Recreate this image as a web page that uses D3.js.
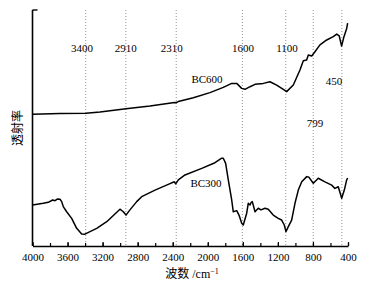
<!DOCTYPE html>
<html>
<head>
<meta charset="utf-8">
<script src="https://cdn.jsdelivr.net/npm/d3@7"></script>
<style>
  body { margin: 0; background: #fff; }
  svg text { font-family: "Liberation Serif", "Noto Sans CJK SC", serif; fill: #000; }
</style>
</head>
<body>
<div id="chart"></div>
<script>
// FTIR spectra, wavenumber (cm-1) vs transmittance (arbitrary units)
const bc600 = [
  [4000, 55.8], [3686, 56.1], [3390, 56.2], [3230, 56.8], [2933, 58.2], [2659, 59.3],
  [2380, 60.8], [2363, 60.7], [2336, 61.2], [2165, 62.8], [1975, 65.0], [1823, 67.2],
  [1727, 68.9], [1670, 68.9], [1613, 66.8], [1575, 66.4], [1518, 67.5], [1461, 68.5],
  [1367, 68.9], [1290, 69.6], [1214, 68.2], [1138, 66.4], [1100, 65.4], [1024, 68.2],
  [948, 74.6], [910, 78.5], [872, 78.8], [853, 80.9], [814, 80.5], [777, 82.3],
  [720, 85.2], [643, 87.3], [568, 88.7], [529, 89.8], [500, 89.0], [473, 84.7],
  [446, 88.7], [415, 92.2], [404, 94.4]
];

const bc300 = [
  [4000, 17.4], [3877, 18.1], [3820, 18.5], [3770, 19.5], [3743, 19.2], [3717, 19.9],
  [3686, 19.8], [3667, 18.8], [3649, 16.7], [3610, 14.5], [3553, 11.7], [3496, 7.5],
  [3439, 5.1], [3401, 5.0], [3344, 6.1], [3267, 7.5], [3153, 10.3], [3002, 15.6],
  [2964, 14.5], [2933, 13.1], [2888, 15.3], [2811, 18.8], [2754, 20.9], [2602, 23.7],
  [2451, 26.1], [2382, 27.2], [2366, 26.3], [2336, 28.0], [2260, 30.1], [2069, 32.9],
  [1918, 35.3], [1841, 37.2], [1823, 37.2], [1796, 35.0], [1766, 28.0], [1727, 19.5],
  [1709, 14.5], [1670, 15.0], [1644, 13.1], [1613, 9.6], [1595, 8.9], [1556, 13.9],
  [1538, 18.1], [1518, 17.4], [1507, 18.3], [1492, 18.8], [1461, 14.5], [1424, 16.0],
  [1393, 15.3], [1347, 16.0], [1310, 15.6], [1253, 13.1], [1196, 11.7], [1157, 11.0],
  [1127, 8.9], [1108, 6.1], [1081, 8.2], [1043, 11.0], [1005, 18.1], [967, 23.7],
  [928, 27.2], [871, 29.4], [845, 29.1], [796, 26.6], [739, 28.7], [663, 27.2],
  [586, 25.8], [549, 24.4], [511, 25.1], [472, 20.2], [442, 23.7], [415, 28.0], [404, 28.8]
];

// dotted peak guides (drawn position in cm-1)
const peakLines = [3393, 2935, 2360, 1605, 1110, 797, 470];

// text annotations: [label, wavenumber, transmittance]
const annotations = [
  ["3400", 3435, 82.2], ["2910", 2937, 82.2], ["2310", 2412, 82.2],
  ["1600", 1598, 82.2], ["1100", 1096, 82.2], ["450", 560, 68.2],
  ["799", 777, 50.4], ["BC600", 2009, 69.1], ["BC300", 2020, 25.0]
];

const xTicks = [4000, 3600, 3200, 2800, 2400, 2000, 1600, 1200, 800, 400];
const xMinorTicks = d3.range(400, 4001, 200);

const width = 367, height = 284;
const margin = { top: 10, right: 19, bottom: 38, left: 32.5 };

const svg = d3.select("#chart").append("svg")
  .attr("width", width)
  .attr("height", height);

const x = d3.scaleLinear()
  .domain([4000, 400])
  .range([margin.left, width - margin.right]);

const y = d3.scaleLinear()
  .domain([0, 100])
  .range([height - margin.bottom, margin.top]);

const y0 = height - margin.bottom;

// peak guide lines
svg.append("g")
  .selectAll("line")
  .data(peakLines)
  .join("line")
  .attr("x1", d => x(d)).attr("x2", d => x(d))
  .attr("y1", margin.top).attr("y2", y0)
  .attr("stroke", "#777")
  .attr("stroke-width", 0.8)
  .attr("stroke-dasharray", "1,2");

// spectra
const line = d3.line()
  .x(d => x(d[0]))
  .y(d => y(d[1]))
  .curve(d3.curveLinear);

[bc600, bc300].forEach(s => {
  svg.append("path")
    .datum(s)
    .attr("fill", "none")
    .attr("stroke", "#000")
    .attr("stroke-width", 1.5)
    .attr("stroke-linejoin", "round")
    .attr("d", line);
});

// bottom axis: minor then major ticks pointing inward
svg.append("g")
  .attr("transform", `translate(0,${y0})`)
  .call(d3.axisBottom(x).tickValues(xMinorTicks).tickSizeInner(-3).tickSizeOuter(0).tickFormat(""))
  .call(g => g.select(".domain").remove())
  .call(g => g.selectAll("line").attr("stroke-width", 1.2));

const xAxis = svg.append("g")
  .attr("transform", `translate(0,${y0})`)
  .call(d3.axisBottom(x).tickValues(xTicks).tickSizeInner(-4).tickSizeOuter(0).tickPadding(7).tickFormat(d3.format("d")));
xAxis.select(".domain").attr("stroke-width", 1.6);
xAxis.selectAll("line").attr("stroke-width", 1.2);
xAxis.selectAll("text")
  .attr("font-size", "11px")
  .attr("font-family", "Liberation Serif");

// left axis, no ticks except the top cap
svg.append("line")
  .attr("x1", margin.left).attr("x2", margin.left)
  .attr("y1", margin.top).attr("y2", y0)
  .attr("stroke", "#000").attr("stroke-width", 1.6);
svg.append("line")
  .attr("x1", margin.left).attr("x2", margin.left + 5)
  .attr("y1", margin.top).attr("y2", margin.top)
  .attr("stroke", "#000").attr("stroke-width", 1.4);

// annotations
svg.append("g")
  .selectAll("text")
  .data(annotations)
  .join("text")
  .attr("x", d => x(d[1]))
  .attr("y", d => y(d[2]))
  .attr("text-anchor", "middle")
  .attr("font-size", "11px")
  .text(d => d[0]);

// axis titles
svg.append("text")
  .attr("transform", `translate(22,${(margin.top + y0) / 2}) rotate(-90)`)
  .attr("text-anchor", "middle")
  .attr("font-size", "12px")
  .attr("font-family", "Noto Sans CJK SC")
  .text("透射率");

const xt = svg.append("text")
  .attr("x", 192)
  .attr("y", 278)
  .attr("text-anchor", "middle")
  .attr("font-size", "12px");
xt.append("tspan").attr("font-family", "Noto Sans CJK SC").text("波数");
xt.append("tspan").text(" /cm");
xt.append("tspan").attr("dy", -4).attr("font-size", "8px").text("−1");
</script>
</body>
</html>
